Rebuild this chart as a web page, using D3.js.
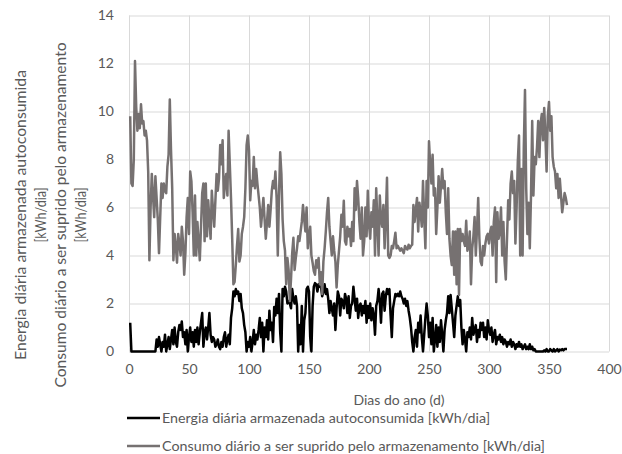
<!doctype html>
<html>
<head>
<meta charset="utf-8" />
<title>Energia diária armazenada</title>
<style>
  body { margin: 0; background: #fff; }
  svg { display: block; }
  text { font-family: "Lato", "Open Sans", sans-serif; fill: #595959; }
</style>
</head>
<body>
<svg id="chart" width="622" height="454"></svg>
<script src="https://cdn.jsdelivr.net/npm/d3@7"></script>
<script>
// tick values
const xTicks = [0, 50, 100, 150, 200, 250, 300, 350, 400];
const yTicks = [0, 2, 4, 6, 8, 10, 12, 14];

const seriesNames = [
  "Energia diária armazenada autoconsumida [kWh/dia]",
  "Consumo diário a ser suprido pelo armazenamento [kWh/dia]"
];

// day 1..365
const energiaAutoconsumida = [
  1.2, 0, 0, 0, 0, 0, 0, 0, 0, 0,
  0, 0, 0, 0, 0, 0, 0, 0, 0, 0,
  0, 0, 0.5, 0.2, 0.6, 0.3, 0.0, 0.4, 0.2, 0.7,
  0.0, 0.3, 0.6, 0.1, 0.5, 0.9, 0.3, 1.0, 0.4, 0.2,
  0.8, 1.1, 0.9, 1.25, 0.6, 0.8, 0.3, 0.9, 0.0, 0.6,
  1.0, 0.4, 0.8, 0.2, 0.9, 0.4, 1.0, 0.3, 0.8, 1.2,
  1.6, 0.2, 0.8, 1.0, 0.5, 1.0, 1.6, 0.7, 0.4, 0.6,
  0.5, 0.2, 0.3, 0.5, 0.2, 0.1, 0.4, 0.2, 0.6, 0.8,
  0.2, 0.5, 0.7, 0.3, 1.4, 1.8, 2.5, 2.3, 2.6, 2.4,
  2.5, 2.1, 2.4, 1.8, 1.6, 1.1, 0.8, 0.0, 0.4, 0.2,
  0.6, 0.0, 0.4, 0.9, 0.3, 0.7, 0.5, 0.9, 1.4, 0.6,
  1.2, 0.0, 1.0, 0.6, 1.3, 0.5, 1.7, 0.9, 1.2, 0.4,
  1.85, 1.5, 2.2, 1.6, 2.4, 0.8, 0.0, 2.6, 2.3, 2.7,
  2.5, 2.0, 2.1, 2.0, 1.8, 2.6, 2.2, 2.0, 2.3, 1.9,
  0.0, 1.1, 0.3, 1.9, 0.0, 1.3, 1.6, 2.6, 2.7, 2.5,
  0.6, 0.0, 1.9, 2.7, 2.85, 2.8, 2.5, 2.8, 2.7, 2.7,
  2.3, 2.5, 2.8, 2.4, 2.6, 2.2, 1.6, 2.1, 1.8, 1.5,
  2.0, 0.9, 1.8, 2.5, 2.3, 1.5, 2.2, 2.1, 1.8, 2.4,
  2.2, 1.6, 2.3, 1.4, 1.9, 2.0, 2.7, 2.2, 1.7, 2.2,
  1.4, 1.9, 2.0, 1.5, 1.9, 1.6, 2.1, 1.2, 1.9, 1.4,
  2.0, 1.3, 1.8, 1.5, 0.7, 1.9, 2.1, 2.6, 2.1, 1.2,
  2.4, 2.5, 1.7, 2.3, 2.6, 2.4, 2.6, 1.5, 0.6, 1.8,
  2.1, 2.4, 2.3, 2.4, 2.3, 2.5, 2.3, 2.2, 2.0, 2.2,
  1.9, 2.1, 1.7, 1.4, 1.0, 0.4, 0.0, 0.6, 0.9, 0.2,
  1.2, 0.8, 1.5, 0.6, 0.0, 0.7, 1.4, 2.0, 1.5, 0.6,
  1.2, 0.3, 1.4, 0.0, 0.5, 1.1, 0.2, 1.0, 0.4, 1.3,
  0.7, 0.0, 0.9, 1.3, 1.6, 2.3, 1.6, 2.35, 1.8, 1.2,
  0.6, 1.5, 1.9, 2.3, 1.9, 2.15, 1.0, 0.3, 0.9, 0.5,
  0.0, 0.8, 0.6, 1.0, 0.5, 1.4, 0.7, 0.9, 1.1, 0.4,
  0.9, 0.6, 1.2, 0.9, 1.2, 0.6, 1.0, 0.5, 1.3, 0.9,
  0.7, 1.0, 0.4, 0.7, 0.9, 0.3, 0.6, 0.5, 0.7, 0.4,
  0.6, 0.3, 0.5, 0.4, 0.2, 0.4, 0.3, 0.5, 0.2, 0.4,
  0.3, 0.1, 0.3, 0.2, 0.4, 0.2, 0.3, 0.1, 0.2, 0.3,
  0.1, 0.2, 0.1, 0.3, 0.1, 0.2, 0.05, 0.1, 0, 0,
  0, 0, 0, 0, 0, 0.05, 0, 0.1, 0, 0,
  0.1, 0.05, 0, 0.1, 0, 0.05, 0.1, 0, 0.08, 0.05,
  0.1, 0.05, 0.1, 0.1, 0.1
];

const consumoArmazenamento = [
  9.8, 7.0, 6.9, 8.0, 12.1, 10.2, 9.2, 9.9, 9.3, 10.3,
  9.5, 9.6, 9.0, 9.2, 8.8, 7.5, 3.8, 6.0, 7.4, 6.5,
  5.6, 7.3, 6.4, 5.5, 4.1, 5.6, 7.0, 6.4, 7.0, 6.7,
  6.6, 7.7, 8.2, 10.5, 8.4, 6.8, 3.8, 4.9, 4.4, 3.7,
  4.9, 4.5, 4.0, 5.2, 4.6, 3.2, 4.1, 5.6, 6.4, 4.9,
  7.5, 7.1, 5.8, 4.0, 6.5, 4.0, 5.4, 4.6, 3.8, 5.2,
  6.6, 7.0, 4.6, 7.0, 4.8, 6.3, 5.5, 4.7, 6.7, 5.9,
  5.2, 6.3, 7.4, 6.7, 7.2, 8.6, 7.8, 8.8, 6.4, 7.0,
  7.4, 6.5, 9.2, 7.8, 6.4, 4.7, 2.8, 2.9, 3.6, 4.4,
  5.1, 3.75, 4.0, 4.9, 5.2, 5.6, 6.8, 8.6, 9.0, 8.4,
  6.3, 7.1, 6.9, 8.1, 6.8, 7.6, 7.0, 6.5, 6.0, 5.2,
  5.8, 6.4, 5.5, 4.7, 5.4, 6.1, 5.2, 5.9, 6.7, 7.1,
  6.8, 7.5, 6.4, 4.0, 6.5, 8.3, 7.4, 5.5, 4.6, 4.2,
  2.8, 3.9, 3.4, 2.1, 3.0, 4.1, 4.74, 3.4, 3.9, 4.3,
  4.8, 4.6, 5.0, 5.4, 6.1, 5.5, 5.0, 6.0, 4.3, 4.8,
  5.2, 4.0, 3.7, 3.35, 3.2, 3.8, 3.5, 3.9, 2.8, 3.3,
  2.4, 3.75, 4.3, 5.0, 5.8, 6.4, 5.2, 4.6, 4.0, 4.8,
  4.2, 3.75, 2.67, 3.6, 4.2, 4.8, 5.7, 5.2, 6.28, 4.6,
  4.46, 5.2, 4.8, 5.1, 4.4, 5.4, 4.6, 6.8, 5.9, 7.1,
  6.4, 5.4, 4.7, 6.0, 4.0, 4.6, 6.0, 4.8, 6.7, 5.3,
  4.7, 5.8, 5.2, 6.3, 4.0, 6.8, 5.4, 4.0, 6.5, 5.5,
  5.2, 6.1, 4.3, 5.6, 7.24, 4.0, 3.9, 4.0, 4.4, 4.3,
  4.6, 4.95, 4.3, 4.4, 4.3, 4.2, 4.3, 4.2, 4.1, 4.4,
  4.3, 4.25, 4.45, 4.3, 4.4, 4.45, 6.1, 5.4, 5.9, 6.4,
  5.0, 6.2, 5.8, 5.2, 7.1, 5.6, 4.3, 7.1, 6.0, 8.76,
  7.8, 7.0, 8.2, 6.5, 6.8, 4.9, 6.0, 7.3, 6.2, 6.9,
  7.6, 6.8, 7.1, 5.8, 4.9, 6.8, 4.7, 4.0, 3.6, 5.0,
  3.2, 5.0, 2.8, 5.1, 2.35, 5.1, 4.6, 4.9, 4.6, 4.4,
  5.45, 4.2, 4.4, 5.0, 2.8, 4.3, 4.8, 5.6, 4.0, 5.1,
  6.4, 4.7, 3.75, 3.6, 4.4, 4.0, 4.5, 4.8, 4.9, 4.5,
  5.0, 5.2, 4.0, 5.4, 6.0, 2.9, 5.8, 4.7, 5.0, 6.0,
  4.0, 5.4, 3.75, 3.0, 4.7, 6.3, 5.5, 7.0, 7.5, 6.6,
  7.1, 4.5, 6.0, 7.9, 9.0, 4.0, 7.6, 4.0, 8.5, 10.9,
  6.8, 4.9, 6.2, 4.3, 6.5, 9.6, 6.5, 8.1, 7.8, 8.5,
  9.6, 8.1, 9.5, 9.9, 8.8, 10.15, 9.0, 7.5, 9.8, 10.4,
  9.2, 9.8, 8.1, 7.7, 7.5, 6.8, 7.4, 6.4, 7.2, 6.5,
  5.8, 6.2, 6.6, 6.4, 6.1
];

const svg = d3.select("#chart");
svg.append("rect").attr("width", 622).attr("height", 454).attr("fill", "#fff");

const x = d3.scaleLinear().domain([0, 400]).range([129, 609]);
const y = d3.scaleLinear().domain([0, 14]).range([351.5, 15.5]);

// horizontal grid + y labels
const yAxis = svg.append("g")
  .attr("transform", "translate(129,0)")
  .call(d3.axisLeft(y).tickValues(yTicks).tickSize(-480).tickPadding(15));
yAxis.select(".domain").remove();
yAxis.selectAll("line").attr("stroke", "#d9d9d9");
yAxis.selectAll("text").attr("font-size", 14).attr("fill", "#595959")
  .style("font-family", "Lato, 'Open Sans', sans-serif");

// vertical grid + x labels
const xAxis = svg.append("g")
  .attr("transform", "translate(0,351.5)")
  .call(d3.axisBottom(x).tickValues(xTicks).tickSize(-336).tickPadding(13));
xAxis.select(".domain").remove();
xAxis.selectAll("line").attr("stroke", "#d9d9d9");
xAxis.selectAll("text").attr("font-size", 14).attr("fill", "#595959")
  .style("font-family", "Lato, 'Open Sans', sans-serif");

// series
const line = d3.line()
  .x((d, i) => x(i + 1))
  .y(d => y(d));

svg.append("path")
  .datum(energiaAutoconsumida)
  .attr("fill", "none")
  .attr("stroke", "#000")
  .attr("stroke-width", 2.5)
  .attr("stroke-linejoin", "round")
  .attr("d", line);

svg.append("path")
  .datum(consumoArmazenamento)
  .attr("fill", "none")
  .attr("stroke", "#767171")
  .attr("stroke-width", 2.5)
  .attr("stroke-linejoin", "round")
  .attr("d", line);

// axis titles
svg.append("text")
  .attr("x", 399).attr("y", 405)
  .attr("text-anchor", "middle")
  .attr("font-size", 14)
  .text("Dias do ano (d)");

const yTitle = [
  { t: "Energia diária armazenada autoconsumida", x: 20, len: 290 },
  { t: "[kWh/dia]", x: 40, len: 55 },
  { t: "Consumo diário a ser suprido pelo armazenamento", x: 60, len: 345 },
  { t: "[kWh/dia]", x: 80, len: 55 }
];
yTitle.forEach(d => {
  svg.append("text")
    .attr("transform", `translate(${d.x},215) rotate(-90)`)
    .attr("text-anchor", "middle")
    .attr("dominant-baseline", "central")
    .attr("font-size", 14.5)
    .attr("textLength", d.len)
    .attr("lengthAdjust", "spacingAndGlyphs")
    .text(d.t);
});

// legend
const legend = [
  { name: seriesNames[0], color: "#000", y: 418, len: 328 },
  { name: seriesNames[1], color: "#767171", y: 446, len: 383 }
];
legend.forEach(d => {
  svg.append("line")
    .attr("x1", 127).attr("x2", 160)
    .attr("y1", d.y).attr("y2", d.y)
    .attr("stroke", d.color).attr("stroke-width", 2.5);
  svg.append("text")
    .attr("x", 162).attr("y", d.y)
    .attr("dominant-baseline", "central")
    .attr("font-size", 13.5)
    .attr("textLength", d.len)
    .attr("lengthAdjust", "spacingAndGlyphs")
    .text(d.name);
});
</script>
</body>
</html>
